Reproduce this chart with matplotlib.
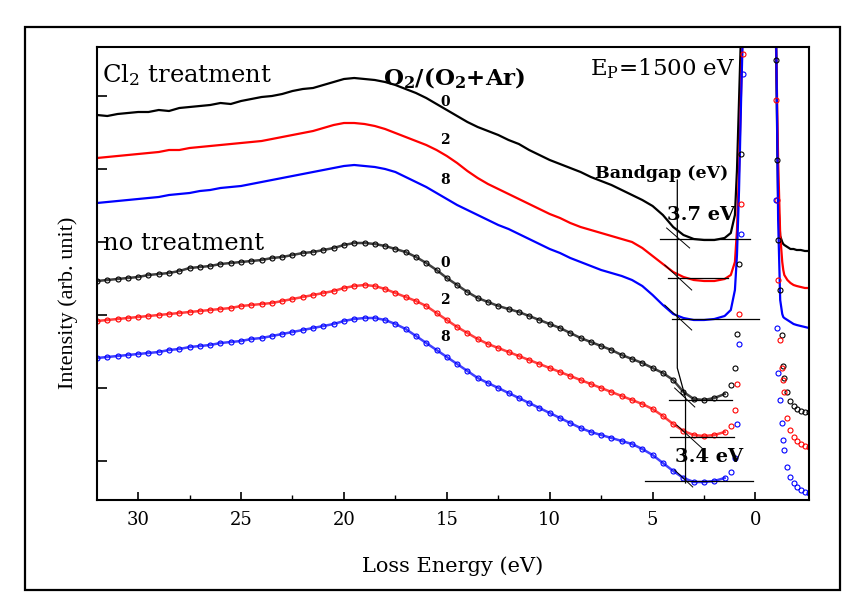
import matplotlib
matplotlib.use("Agg")
from matplotlib import pyplot as plt
from matplotlib.patches import Rectangle

# loss energy grid (eV)
energy = [32.0, 31.5, 31.0, 30.5, 30.0, 29.5, 29.0, 28.5, 28.0, 27.5, 27.0, 26.5,
          26.0, 25.5, 25.0, 24.5, 24.0, 23.5, 23.0, 22.5, 22.0, 21.5, 21.0, 20.5,
          20.0, 19.5, 19.0, 18.5, 18.0, 17.5, 17.0, 16.5, 16.0, 15.5, 15.0, 14.5,
          14.0, 13.5, 13.0, 12.5, 12.0, 11.5, 11.0, 10.5, 10.0, 9.5, 9.0, 8.5,
          8.0, 7.5, 7.0, 6.5, 6.0, 5.5, 5.0, 4.5, 4.0, 3.5, 3.0, 2.5, 2.0, 1.5]
peak_energy = [1.2, 1.0, 0.9, 0.8, 0.7, 0.6, 0.5, 0.4, 0.2, 0.0, -0.3, -0.6, -0.9,
               -1.0, -1.05, -1.1, -1.2, -1.3, -1.35, -1.4, -1.55, -1.7, -1.85,
               -2.0, -2.2, -2.4, -2.6]

# Cl2 treatment, O2/(O2+Ar) = 0, 2, 8
cl2_0 = [419, 418, 420, 421, 422, 422, 424, 423, 426, 427, 428, 429, 431, 430, 433, 435,
         437, 438, 440, 443, 445, 446, 449, 452, 455, 456, 455, 454, 452, 449, 445, 441,
         436, 430, 424, 418, 412, 407, 403, 399, 394, 390, 384, 379, 374, 370, 366, 362,
         357, 353, 349, 344, 339, 334, 328, 319, 307, 299, 295, 294, 294, 296]
cl2_0_peak = [301, 319, 364, 434, 504, 584, 700, 900, 1400, 1800, 1500, 1100, 600,
              484, 404, 334, 298, 292, 290, 289, 287, 285, 285, 284, 284, 283, 283]
cl2_2 = [376, 377, 378, 379, 380, 381, 382, 384, 384, 386, 387, 388, 389, 390, 391, 392,
         393, 395, 397, 399, 401, 403, 406, 409, 411, 411, 410, 408, 405, 401, 397, 393,
         389, 384, 378, 371, 363, 356, 350, 345, 340, 335, 330, 325, 320, 316, 311, 307,
         304, 301, 298, 295, 292, 286, 278, 270, 262, 257, 254, 253, 253, 255]
cl2_2_peak = [259, 272, 304, 364, 444, 524, 680, 880, 1380, 1780, 1480, 1080, 580,
              494, 434, 374, 299, 272, 264, 259, 254, 251, 249, 248, 247, 246, 246]
cl2_8 = [331, 332, 333, 334, 335, 336, 337, 339, 340, 341, 343, 344, 346, 347, 348, 350,
         352, 354, 356, 358, 360, 362, 364, 366, 368, 369, 368, 367, 365, 362, 357, 352,
         347, 341, 335, 329, 324, 319, 314, 309, 305, 300, 295, 290, 285, 281, 276, 272,
         268, 264, 261, 258, 254, 248, 239, 229, 220, 216, 214, 214, 215, 218]
cl2_8_peak = [224, 244, 279, 344, 434, 514, 680, 880, 1380, 1780, 1480, 1080, 580,
              504, 414, 314, 234, 220, 217, 216, 214, 212, 210, 209, 208, 207, 206]

# no treatment, O2/(O2+Ar) = 0, 2, 8
raw_0 = [253, 254, 255, 256, 257, 259, 260, 261, 263, 266, 267, 268, 270, 271, 272, 273,
         274, 276, 277, 279, 281, 282, 284, 286, 289, 291, 291, 290, 288, 285, 282, 277,
         271, 264, 256, 249, 242, 236, 232, 228, 225, 222, 218, 214, 210, 206, 201, 196,
         192, 188, 184, 179, 175, 171, 166, 161, 154, 142, 135, 134, 136, 140]
raw_0_peak = [149, 166, 200, 270, 380, 520, 700, 900, 1380, 1780, 1480, 1080, 580,
              474, 374, 294, 244, 199, 168, 156, 142, 133, 128, 125, 123, 122, 122]
raw_2 = [213, 214, 215, 216, 217, 218, 219, 220, 221, 222, 223, 224, 225, 226, 228, 229,
         230, 231, 233, 235, 237, 239, 241, 243, 246, 248, 249, 248, 245, 241, 237, 233,
         228, 221, 214, 207, 201, 195, 190, 186, 182, 178, 174, 170, 166, 162, 158, 154,
         150, 146, 142, 138, 134, 130, 125, 118, 110, 103, 99, 98, 99, 102]
raw_2_peak = [108, 124, 150, 220, 330, 480, 680, 880, 1380, 1780, 1480, 1080, 580,
              434, 334, 254, 194, 166, 154, 142, 116, 104, 97, 93, 90, 88, 87]
raw_8 = [176, 177, 178, 179, 180, 181, 182, 184, 185, 187, 188, 189, 191, 192, 193, 195,
         196, 198, 200, 202, 204, 206, 208, 210, 213, 215, 216, 216, 214, 210, 205, 198,
         191, 184, 177, 170, 163, 156, 151, 146, 141, 136, 131, 126, 121, 116, 111, 106,
         102, 99, 96, 93, 90, 85, 79, 71, 63, 56, 52, 52, 53, 56]
raw_8_peak = [62, 76, 110, 190, 300, 460, 680, 880, 1380, 1780, 1480, 1080, 580,
              334, 206, 161, 134, 111, 94, 84, 67, 57, 51, 47, 44, 42, 41]

colors = ["black", "red", "blue"]
ratio_labels = ["0", "2", "8"]

# bandgap construction: baselines (E start, E end, I) and edge tangents
gap_upper = 3.8
gap_lower = 3.4
base_lines = [(4.66, 0.27, 295), (4.27, 1.34, 256), (4.07, -0.17, 215),
              (4.22, 1.15, 134), (4.17, 1.05, 97), (5.39, 0.12, 53)]
tangents = [(4.32, 306, 3.20, 286), (4.41, 269, 3.10, 244), (4.41, 229, 3.10, 204),
            (3.93, 146, 2.95, 127), (3.83, 109, 2.61, 86), (3.93, 64, 3.05, 47)]
gap_line_e = [gap_upper, gap_upper, gap_lower, gap_lower]
gap_line_i = [354, 166, 136, 51]

xticks = [30, 25, 20, 15, 10, 5, 0]
yticks = [73, 146, 219, 292, 365, 438]

plt.rcParams["font.family"] = ["DejaVu Serif"]
plt.rcParams["mathtext.fontset"] = "dejavuserif"

fig = plt.figure(figsize=(8.64, 6.16), dpi=100)
ax = fig.add_axes([97 / 864, 1 - 500 / 616, 712 / 864, 453 / 616])

fig.patches.append(Rectangle((25 / 864, 1 - 590 / 616), 815 / 864, 563 / 616,
                             transform=fig.transFigure, fill=False,
                             edgecolor="black", linewidth=1.6))

for vals, pk, c in zip([cl2_0, cl2_2, cl2_8], [cl2_0_peak, cl2_2_peak, cl2_8_peak], colors):
    ax.plot(energy + peak_energy, vals + pk, color=c, lw=1.6)

for vals, pk, c in zip([raw_0, raw_2, raw_8], [raw_0_peak, raw_2_peak, raw_8_peak], colors):
    ax.plot(energy, vals, color=c, lw=1.8, alpha=0.75)
    ax.plot(energy + peak_energy, vals + pk, linestyle="none", marker="o", ms=3.6,
            mfc="none", mec=c, mew=0.8)

# bandgap guide lines
ax.plot(gap_line_e, gap_line_i, color="black", lw=0.9)
for e1, e2, lvl in base_lines:
    ax.plot([e1, e2], [lvl, lvl], color="black", lw=0.9)
for e1, i1, e2, i2 in tangents:
    ax.plot([e1, e2], [i1, i2], color="black", lw=0.7)

ax.set_xlim(32.0, -2.6)
ax.set_ylim(34, 487)
ax.set_xticks(xticks)
ax.set_xticks([27.5, 22.5, 17.5, 12.5, 7.5, 2.5], minor=True)
ax.set_yticks(yticks)
ax.set_yticklabels([])
ax.tick_params(axis="x", direction="in", length=6, width=1.2, labelsize=13, pad=8, top=False)
ax.tick_params(axis="x", which="minor", direction="in", length=3.5, width=1.0, top=False)
ax.tick_params(axis="y", direction="in", length=7, width=1.2, right=False)
for s in ax.spines.values():
    s.set_linewidth(1.5)

ax.set_xlabel("Loss Energy (eV)", fontsize=15)
ax.xaxis.set_label_coords(0.5, -0.125)
ax.set_ylabel("Intensity (arb. unit)", fontsize=16, family="Liberation Serif")
ax.yaxis.set_label_coords(-0.027, 0.435)

ax.text(31.75, 452, "Cl$_2$ treatment", fontsize=17.5, va="baseline")
ax.text(31.7, 284, "no treatment", fontsize=17.5, va="baseline")
ax.text(18.1, 449, r"O$_\mathbf{2}$/(O$_\mathbf{2}$+Ar)", fontsize=16.5, fontweight="bold", va="baseline")
ax.text(8.04, 459, r"E$_\mathrm{P}$=1500 eV", fontsize=16.5, va="baseline")
ax.text(7.8, 356, "Bandgap (eV)", fontsize=12.5, fontweight="bold", va="baseline")
ax.text(4.3, 314, "3.7 eV", fontsize=14, fontweight="bold", va="baseline")
ax.text(3.91, 72, "3.4 eV", fontsize=14, fontweight="bold", va="baseline")

for lab, lvl in zip(ratio_labels, [432, 394, 354]):
    ax.text(15.1, lvl, lab, fontsize=10, fontweight="bold", ha="center", va="center")
for lab, lvl in zip(ratio_labels, [271, 234, 197]):
    ax.text(15.1, lvl, lab, fontsize=10, fontweight="bold", ha="center", va="center")

fig.savefig("out.png", dpi=100)
